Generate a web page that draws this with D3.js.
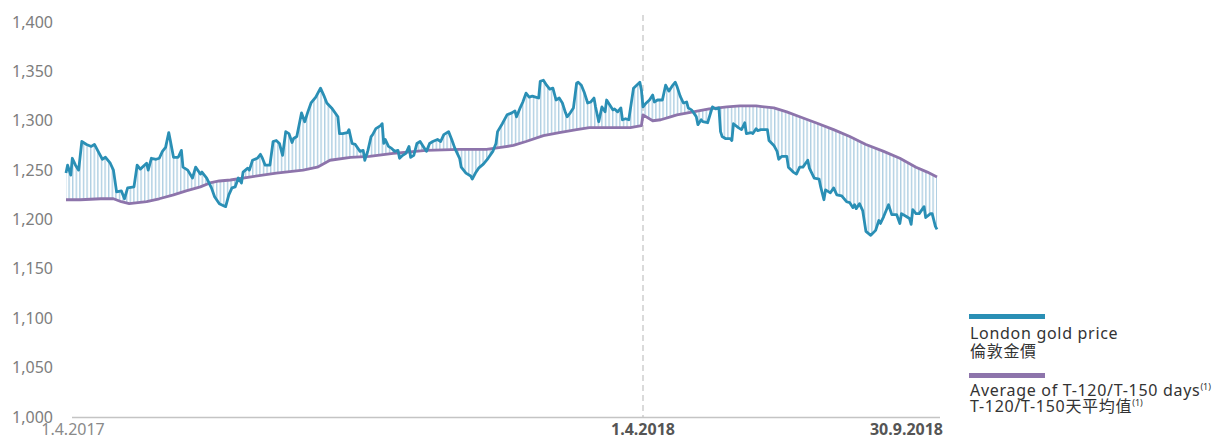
<!DOCTYPE html>
<html>
<head>
<meta charset="utf-8">
<script src="https://cdnjs.cloudflare.com/ajax/libs/d3/7.8.5/d3.min.js"></script>
<style>
body { margin: 0; background: #fff; }
text { font-family: "Noto Sans", "Noto Sans CJK TC", sans-serif; }
</style>
</head>
<body>
<div id="chart"></div>
<script>
// London gold price (US$/oz)
var priceDates = [
  "2017-04-01","2017-04-02","2017-04-04","2017-04-05","2017-04-07","2017-04-09","2017-04-11","2017-04-14","2017-04-17","2017-04-19","2017-04-22","2017-04-24","2017-04-26","2017-04-29",
  "2017-05-01","2017-05-03","2017-05-06","2017-05-08","2017-05-10","2017-05-14","2017-05-16","2017-05-18","2017-05-22","2017-05-23","2017-05-25","2017-05-28","2017-05-30",
  "2017-06-01","2017-06-03","2017-06-05","2017-06-06","2017-06-08","2017-06-11","2017-06-13","2017-06-14","2017-06-17","2017-06-20","2017-06-22","2017-06-25","2017-06-26","2017-06-29",
  "2017-07-02","2017-07-04","2017-07-07","2017-07-11","2017-07-13","2017-07-15","2017-07-17","2017-07-19","2017-07-21","2017-07-22","2017-07-25","2017-07-26","2017-07-28","2017-07-31",
  "2017-08-02","2017-08-03","2017-08-05","2017-08-08","2017-08-10","2017-08-12","2017-08-14","2017-08-16","2017-08-18","2017-08-20","2017-08-22","2017-08-23","2017-08-25","2017-08-28","2017-08-30",
  "2017-09-01","2017-09-03","2017-09-06","2017-09-09","2017-09-11","2017-09-13","2017-09-16","2017-09-20","2017-09-21","2017-09-23","2017-09-26","2017-09-27","2017-09-29",
  "2017-10-01","2017-10-04","2017-10-06","2017-10-07","2017-10-09","2017-10-11","2017-10-12","2017-10-14","2017-10-17","2017-10-18","2017-10-19","2017-10-20","2017-10-22","2017-10-24","2017-10-26","2017-10-28","2017-10-29","2017-10-31",
  "2017-11-02","2017-11-04","2017-11-05","2017-11-07","2017-11-09","2017-11-11","2017-11-13","2017-11-15","2017-11-17","2017-11-19","2017-11-22","2017-11-24","2017-11-26","2017-11-29",
  "2017-12-01","2017-12-03","2017-12-06","2017-12-07","2017-12-10","2017-12-13","2017-12-14","2017-12-16","2017-12-18","2017-12-21","2017-12-24","2017-12-27","2017-12-29","2017-12-30",
  "2018-01-02","2018-01-05","2018-01-08","2018-01-10","2018-01-11","2018-01-13","2018-01-15","2018-01-17","2018-01-19","2018-01-21","2018-01-23","2018-01-25","2018-01-26","2018-01-28","2018-01-30",
  "2018-02-01","2018-02-03","2018-02-05","2018-02-07","2018-02-09","2018-02-11","2018-02-12","2018-02-14","2018-02-16","2018-02-18","2018-02-19","2018-02-21","2018-02-23","2018-02-25","2018-02-27",
  "2018-03-01","2018-03-02","2018-03-04","2018-03-06","2018-03-08","2018-03-09","2018-03-11","2018-03-13","2018-03-14","2018-03-16","2018-03-18","2018-03-19","2018-03-21","2018-03-23","2018-03-26","2018-03-28","2018-03-30","2018-03-31",
  "2018-04-01","2018-04-03","2018-04-05","2018-04-07","2018-04-08","2018-04-10","2018-04-13","2018-04-15","2018-04-17","2018-04-19","2018-04-21","2018-04-22","2018-04-24","2018-04-26","2018-04-28","2018-04-29",
  "2018-05-01","2018-05-02","2018-05-04","2018-05-05","2018-05-07","2018-05-08","2018-05-11","2018-05-14","2018-05-16","2018-05-18","2018-05-19","2018-05-20","2018-05-22","2018-05-25","2018-05-26","2018-05-27","2018-05-30",
  "2018-06-01","2018-06-03","2018-06-04","2018-06-07","2018-06-08","2018-06-10","2018-06-11","2018-06-13","2018-06-16","2018-06-17","2018-06-18","2018-06-21","2018-06-23","2018-06-24","2018-06-26","2018-06-29","2018-06-30",
  "2018-07-03","2018-07-05","2018-07-07","2018-07-09","2018-07-12","2018-07-13","2018-07-16","2018-07-19","2018-07-20","2018-07-22","2018-07-23","2018-07-26","2018-07-28","2018-07-30",
  "2018-08-02","2018-08-05","2018-08-07","2018-08-09","2018-08-10","2018-08-11","2018-08-13","2018-08-15","2018-08-17","2018-08-20","2018-08-23","2018-08-25","2018-08-26","2018-08-28","2018-08-31",
  "2018-09-02","2018-09-05","2018-09-07","2018-09-08","2018-09-11","2018-09-13","2018-09-14","2018-09-15","2018-09-17","2018-09-19","2018-09-22","2018-09-23","2018-09-26","2018-09-27","2018-09-29","2018-09-30"
];
var priceValues = [
  1247,1255,1245,1262,1255,1250,1279,1276,1274,1276,1267,1261,1263,1257,
  1250,1228,1229,1221,1232,1233,1255,1251,1257,1250,1262,1261,1262,
  1269,1273,1288,1280,1263,1263,1270,1253,1250,1242,1253,1246,1248,1242,
  1232,1223,1216,1213,1225,1232,1233,1242,1237,1248,1252,1250,1260,1262,
  1266,1263,1255,1255,1279,1280,1277,1265,1289,1287,1278,1282,1284,1308,1299,
  1309,1318,1324,1333,1326,1318,1313,1304,1287,1287,1288,1291,1277,
  1276,1269,1270,1260,1270,1284,1286,1292,1295,1297,1277,1281,1274,1272,1269,1270,1262,1265,
  1267,1274,1263,1265,1277,1279,1274,1269,1277,1279,1281,1279,1286,1289,
  1281,1272,1262,1253,1247,1244,1241,1247,1252,1256,1262,1269,1277,1289,
  1297,1306,1308,1310,1304,1312,1319,1328,1324,1325,1324,1323,1340,1341,1336,
  1332,1333,1321,1323,1318,1308,1304,1308,1313,1338,1339,1336,1328,1318,1319,
  1323,1314,1299,1314,1309,1321,1316,1311,1312,1309,1313,1301,1302,1301,1333,1336,1339,1331,
  1314,1318,1321,1326,1319,1321,1321,1336,1330,1335,1339,1335,1325,1318,1319,1313,
  1311,1309,1304,1296,1301,1299,1298,1314,1312,1313,1289,1284,1282,1282,1280,1297,1293,
  1291,1298,1287,1288,1287,1292,1290,1291,1291,1291,1280,1275,1269,1261,1264,1264,1253,
  1248,1246,1253,1253,1260,1252,1242,1241,1233,1220,1230,1227,1232,1225,
  1224,1218,1217,1212,1215,1211,1216,1209,1188,1184,1189,1199,1196,1203,1215,
  1205,1205,1196,1206,1203,1201,1195,1210,1206,1206,1213,1202,1206,1206,1193,1190
];

// Average of T-120/T-150 days (resets on 1.4.2018)
var avgDates = [
  "2017-04-01","2017-04-10","2017-04-23","2017-05-01","2017-05-06","2017-05-11","2017-05-22","2017-05-30","2017-06-08","2017-06-16","2017-06-25",
  "2017-07-01","2017-07-07","2017-07-14","2017-07-26","2017-08-12","2017-08-29","2017-09-07","2017-09-15","2017-09-28","2017-10-10","2017-10-25",
  "2017-11-15","2017-12-06","2017-12-23","2018-01-01","2018-01-09","2018-01-17","2018-01-28","2018-02-07","2018-02-18","2018-02-26","2018-03-11","2018-03-24","2018-03-31",
  "2018-04-01","2018-04-07","2018-04-12","2018-04-18","2018-04-22","2018-05-02","2018-05-12","2018-05-23","2018-05-31","2018-06-10","2018-06-21","2018-06-29",
  "2018-07-07","2018-07-17","2018-07-28","2018-08-07","2018-08-17","2018-08-28","2018-09-07","2018-09-17","2018-09-24","2018-09-30"
];
var avgValues = [
  1220,1220,1221,1221,1218,1216,1218,1221,1225,1229,1233,
  1237,1239,1240,1243,1247,1250,1253,1260,1263,1264,1267,
  1270,1271,1271,1273,1275,1279,1285,1288,1291,1293,1293,1293,1295,
  1306,1300,1301,1304,1306,1309,1312,1314,1315,1315,1313,1309,
  1304,1298,1291,1284,1276,1269,1262,1253,1248,1243
];

var yTicks = [1000, 1050, 1100, 1150, 1200, 1250, 1300, 1350, 1400];
var xTickDates = ["2017-04-01", "2018-04-01", "2018-09-30"];
var xTickLabels = ["1.4.2017", "1.4.2018", "30.9.2018"];
var legendNames = [["London gold price", "倫敦金價"], ["Average of T-120/T-150 days", "T-120/T-150天平均值"]];

var priceColor = "#2a8fb5",
    avgColor = "#8d74ab";

var parse = d3.timeParse("%Y-%m-%d");

var price = priceDates.map(function(d, i) { return {date: parse(d), value: priceValues[i]}; });
var avg = avgDates.map(function(d, i) { return {date: parse(d), value: avgValues[i]}; });

var svg = d3.select("#chart").append("svg")
    .attr("width", 1217)
    .attr("height", 440);

var x = d3.scaleTime()
    .domain([parse("2017-04-01"), parse("2018-04-01"), parse("2018-09-30")])
    .range([66, 643, 937]);

var y = d3.scaleLinear()
    .domain([1000, 1400])
    .range([417, 22]);

// hatch pattern for the gap between the two lines
var defs = svg.append("defs");
defs.append("pattern")
    .attr("id", "hatch")
    .attr("patternUnits", "userSpaceOnUse")
    .attr("width", 3.6)
    .attr("height", 20)
  .append("rect")
    .attr("x", 0).attr("y", 0)
    .attr("width", 1.4).attr("height", 20)
    .attr("fill", "#afcfe2");

// y tick labels
svg.append("g").selectAll("text")
    .data(yTicks)
    .enter().append("text")
    .attr("x", 53)
    .attr("y", function(d) { return y(d); })
    .attr("dy", "0.35em")
    .attr("text-anchor", "end")
    .style("font-size", "16px")
    .style("fill", "#7d7d7d")
    .text(function(d) { return d3.format(",")(d); });

// base line
svg.append("line")
    .attr("x1", 72).attr("x2", 940)
    .attr("y1", y(1000) + 0.5).attr("y2", y(1000) + 0.5)
    .attr("stroke", "#c4c4c4")
    .attr("stroke-width", 1.5);

// divider at 1.4.2018
svg.append("line")
    .attr("x1", x(parse("2018-04-01"))).attr("x2", x(parse("2018-04-01")))
    .attr("y1", 15).attr("y2", y(1000))
    .attr("stroke", "#b5b5b5")
    .attr("stroke-width", 1)
    .attr("stroke-dasharray", "6,4");

// x labels
svg.append("g").selectAll("text")
    .data(xTickDates)
    .enter().append("text")
    .attr("x", function(d, i) { return x(parse(d)) + (i == 0 ? 7 : i == 2 ? 6 : 0); })
    .attr("y", 435)
    .attr("text-anchor", function(d, i) { return i == 2 ? "end" : "middle"; })
    .style("font-size", "16px")
    .style("font-weight", function(d, i) { return i == 0 ? "normal" : "bold"; })
    .style("fill", function(d, i) { return i == 0 ? "#8a8a8a" : "#555"; })
    .text(function(d, i) { return xTickLabels[i]; });

// hatched band
var pts = price.map(function(d) { return [x(d.date), y(d.value)]; })
    .concat(avg.slice().reverse().map(function(d) { return [x(d.date), y(d.value)]; }));
svg.append("path")
    .attr("d", d3.line()(pts) + "Z")
    .attr("fill", "url(#hatch)")
    .attr("stroke", "none");

var line = d3.line()
    .x(function(d) { return x(d.date); })
    .y(function(d) { return y(d.value); });

svg.append("path")
    .datum(avg)
    .attr("d", line)
    .attr("fill", "none")
    .attr("stroke", avgColor)
    .attr("stroke-width", 2.8)
    .attr("stroke-linejoin", "round");

svg.append("path")
    .datum(price)
    .attr("d", line)
    .attr("fill", "none")
    .attr("stroke", priceColor)
    .attr("stroke-width", 2.8)
    .attr("stroke-linejoin", "round");

// legend
var legendY = [314, 373],
    baselines = [[339, 357], [396, 412]];
var legend = svg.append("g");
legendNames.forEach(function(names, i) {
    legend.append("rect")
        .attr("x", 969).attr("y", legendY[i])
        .attr("width", 76).attr("height", 5)
        .attr("fill", i == 0 ? priceColor : avgColor);
    names.forEach(function(name, j) {
        var t = legend.append("text")
            .attr("x", 970)
            .attr("y", baselines[i][j])
            .style("font-size", "16px")
            .style("letter-spacing", "0.7px")
            .style("fill", "#333")
            .text(name);
        if (i == 1) {
            t.append("tspan")
                .attr("dy", -6)
                .style("font-size", "9px")
                .style("letter-spacing", "0")
                .text("(1)");
        }
    });
});
</script>
</body>
</html>
